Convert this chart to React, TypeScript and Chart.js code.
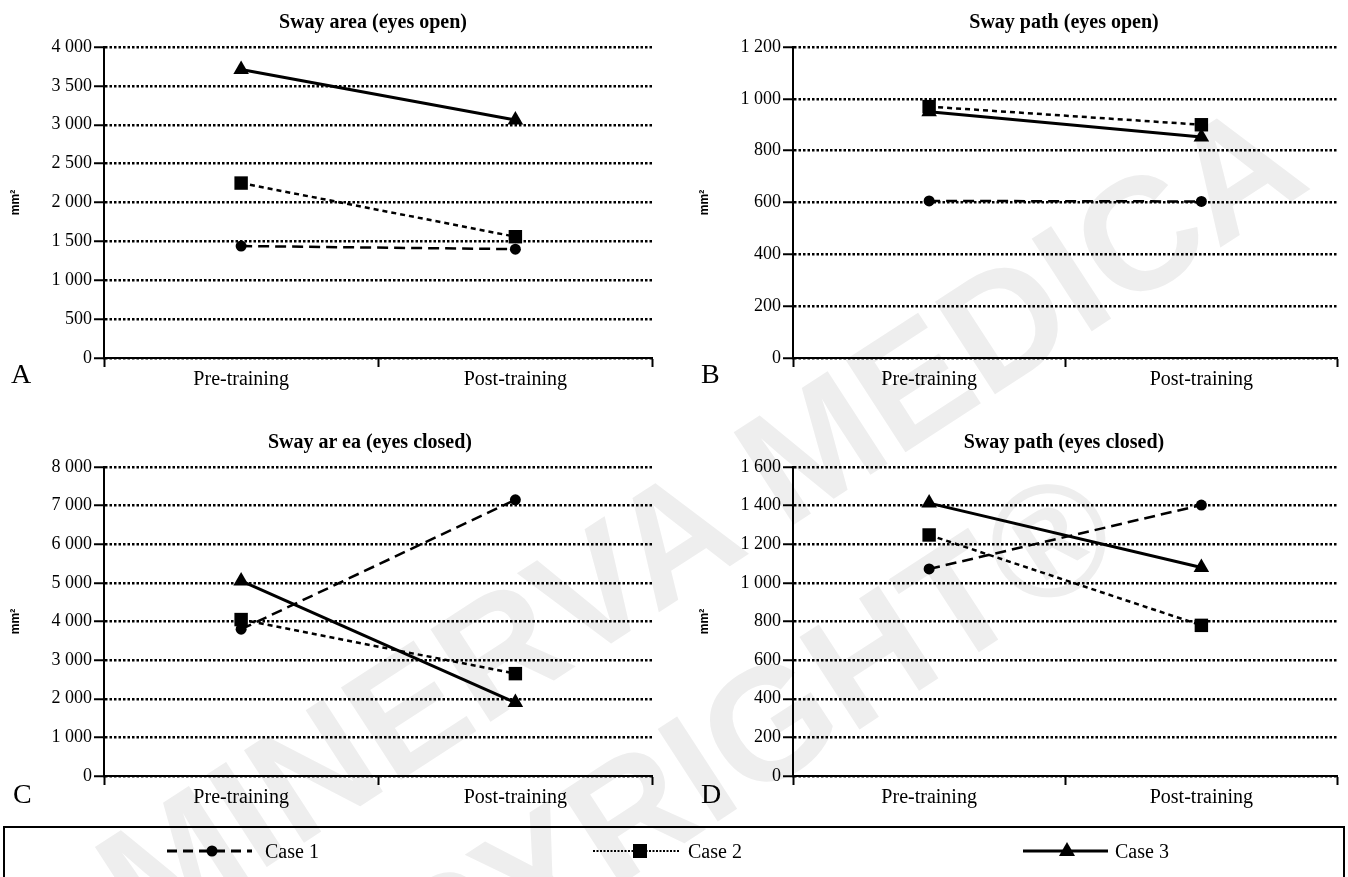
import React, { useEffect, useRef } from 'react';
import { Chart, registerables } from 'chart.js';

Chart.register(...registerables);

const categories = ['Pre-training', 'Post-training'];
const caseNames = ['Case 1', 'Case 2', 'Case 3'];

const swayAreaOpenCase1 = [1440, 1400];
const swayAreaOpenCase2 = [2250, 1560];
const swayAreaOpenCase3 = [3710, 3060];
const swayAreaOpenTicks = [0, 500, 1000, 1500, 2000, 2500, 3000, 3500, 4000];

const swayPathOpenCase1 = [606, 604];
const swayPathOpenCase2 = [970, 900];
const swayPathOpenCase3 = [950, 853];
const swayPathOpenTicks = [0, 200, 400, 600, 800, 1000, 1200];

const swayAreaClosedCase1 = [3800, 7150];
const swayAreaClosedCase2 = [4050, 2650];
const swayAreaClosedCase3 = [5050, 1900];
const swayAreaClosedTicks = [0, 1000, 2000, 3000, 4000, 5000, 6000, 7000, 8000];

const swayPathClosedCase1 = [1072, 1403];
const swayPathClosedCase2 = [1248, 780];
const swayPathClosedCase3 = [1413, 1080];
const swayPathClosedTicks = [0, 200, 400, 600, 800, 1000, 1200, 1400, 1600];

const SERIF = '"Liberation Serif", "Times New Roman", serif';

const seriesStyles = [
  { dash: [11, 6], width: 2.5, point: 'circle', radius: 5.5 },
  { dash: [5, 4], width: 2.5, point: 'rect', radius: 9.5 },
  { dash: [], width: 3, point: 'triangle', radius: 9 },
];

const fmt = (v: number) => String(v).replace(/\B(?=(\d{3})+(?!\d))/g, ' ');

type PanelDef = {
  title: string;
  letter: string;
  series: number[][];
  ticks: number[];
  left: number;
  top: number;
  w: number;
  h: number;
  titleX: number;
  letterX: number;
};

const panels: PanelDef[] = [
  { title: 'Sway area (eyes open)', letter: 'A', series: [swayAreaOpenCase1, swayAreaOpenCase2, swayAreaOpenCase3], ticks: swayAreaOpenTicks, left: 0, top: 0, w: 662, h: 398, titleX: 373, letterX: 11 },
  { title: 'Sway path (eyes open)', letter: 'B', series: [swayPathOpenCase1, swayPathOpenCase2, swayPathOpenCase3], ticks: swayPathOpenTicks, left: 689, top: 0, w: 658, h: 398, titleX: 1064, letterX: 701 },
  { title: 'Sway ar ea (eyes closed)', letter: 'C', series: [swayAreaClosedCase1, swayAreaClosedCase2, swayAreaClosedCase3], ticks: swayAreaClosedTicks, left: 0, top: 420, w: 662, h: 396, titleX: 370, letterX: 13 },
  { title: 'Sway path (eyes closed)', letter: 'D', series: [swayPathClosedCase1, swayPathClosedCase2, swayPathClosedCase3], ticks: swayPathClosedTicks, left: 689, top: 420, w: 658, h: 396, titleX: 1064, letterX: 701 },
];

function Panel({ p }: { p: PanelDef }) {
  const ref = useRef<HTMLCanvasElement>(null);
  useEffect(() => {
    const chart = new Chart(ref.current as HTMLCanvasElement, {
      type: 'line',
      data: {
        labels: categories,
        datasets: p.series.map((d, i) => ({
          label: caseNames[i],
          data: d,
          borderColor: '#000',
          backgroundColor: '#000',
          borderWidth: seriesStyles[i].width,
          borderDash: seriesStyles[i].dash,
          pointStyle: seriesStyles[i].point as any,
          pointRadius: seriesStyles[i].radius,
          pointBackgroundColor: '#000',
          pointBorderColor: '#000',
          pointBorderWidth: 0,
          tension: 0,
          fill: false,
          clip: false as any,
        })),
      },
      options: {
        responsive: false,
        animation: false,
        events: [],
        layout: { padding: { left: 0, right: 8, top: 47, bottom: 0 } },
        plugins: { legend: { display: false }, tooltip: { enabled: false }, title: { display: false } },
        scales: {
          x: {
            type: 'category',
            offset: true,
            grid: { offset: true, drawOnChartArea: false, drawTicks: true, tickLength: 9, tickColor: '#000', tickWidth: 2, color: '#000' },
            border: { display: true, color: '#000', width: 2 },
            ticks: { color: '#000', font: { family: SERIF, size: 20 }, padding: 1, maxRotation: 0 },
            afterFit: (s: any) => { s.height = 40; },
          },
          y: {
            min: p.ticks[0],
            max: p.ticks[p.ticks.length - 1],
            afterBuildTicks: (s: any) => { s.ticks = p.ticks.map((v) => ({ value: v })); },
            ticks: { color: '#000', font: { family: SERIF, size: 18 }, padding: 2, callback: (v: any) => fmt(Number(v)) },
            grid: { color: '#000', lineWidth: 2.5, drawTicks: true, tickLength: 10, tickColor: '#000', tickWidth: 2 },
            border: { display: true, color: '#000', width: 2, dash: [2.5, 2] },
            title: { display: true, text: 'mm²', color: '#000', font: { family: '"Liberation Sans", Arial, sans-serif', size: 12, weight: 'bold' }, padding: { top: 8, bottom: 0 } },
            afterFit: (s: any) => { s.width = 104; },
          },
        },
      } as any,
    });
    return () => chart.destroy();
  }, []);
  return (
    <>
      <canvas ref={ref} width={p.w} height={p.h} style={{ position: 'absolute', left: p.left, top: p.top, width: p.w, height: p.h }} />
      <div style={{ position: 'absolute', left: p.titleX - 200, top: p.top + 9, width: 400, textAlign: 'center', font: `bold 20px ${SERIF}`, lineHeight: '24px', color: '#000', whiteSpace: 'nowrap' }}>{p.title}</div>
      <div style={{ position: 'absolute', left: p.letterX, top: p.top + 360, font: `28px ${SERIF}`, lineHeight: '28px', color: '#000' }}>{p.letter}</div>
    </>
  );
}

function Legend() {
  const y = 851;
  return (
    <>
      <div style={{ position: 'absolute', left: 3, top: 826, width: 1342, height: 80, border: '2px solid #000', boxSizing: 'border-box' }} />
      <svg width={1348} height={877} style={{ position: 'absolute', left: 0, top: 0, pointerEvents: 'none' }}>
        <line x1={167} y1={y} x2={252} y2={y} stroke="#000" strokeWidth={3} strokeDasharray="10 6" />
        <circle cx={212} cy={y} r={5.5} fill="#000" />
        <line x1={593} y1={y} x2={679} y2={y} stroke="#000" strokeWidth={2} strokeDasharray="2 1.5" />
        <rect x={633} y={y - 7} width={14} height={14} fill="#000" />
        <line x1={1023} y1={y} x2={1108} y2={y} stroke="#000" strokeWidth={3} />
        <polygon points={`1067,${y - 9} 1075,${y + 5} 1059,${y + 5}`} fill="#000" />
      </svg>
      {[{ x: 265, t: caseNames[0] }, { x: 688, t: caseNames[1] }, { x: 1115, t: caseNames[2] }].map((it) => (
        <div key={it.t} style={{ position: 'absolute', left: it.x, top: y - 12, font: `20px ${SERIF}`, lineHeight: '24px', color: '#000' }}>{it.t}</div>
      ))}
    </>
  );
}

function Watermark() {
  const style: React.CSSProperties = {
    position: 'absolute',
    font: 'bold 160px "Liberation Sans", Arial, sans-serif',
    color: '#eeeeee',
    whiteSpace: 'nowrap',
    transform: 'translate(-50%, -50%) rotate(-33deg)',
    lineHeight: '160px',
  };
  return (
    <>
      <div style={{ ...style, left: 700, top: 520 }}>MINERVA MEDICA</div>
      <div style={{ ...style, left: 650, top: 800 }}>COPYRIGHT®</div>
    </>
  );
}

export default function App() {
  return (
    <div style={{ position: 'fixed', left: 0, top: 0, width: 1348, height: 877, background: '#fff', overflow: 'hidden' }}>
      <Watermark />
      {panels.map((p) => (
        <Panel key={p.letter} p={p} />
      ))}
      <Legend />
    </div>
  );
}
